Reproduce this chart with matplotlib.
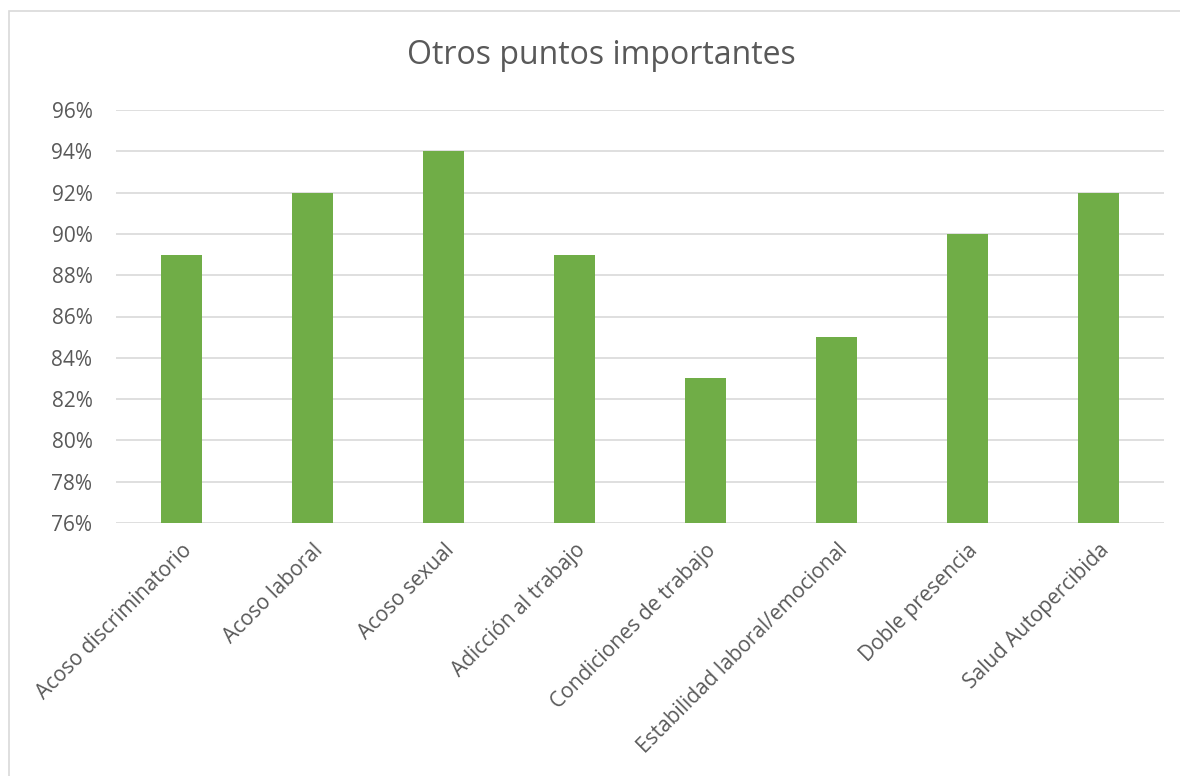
import matplotlib
matplotlib.use("Agg")
import matplotlib.pyplot as plt
from matplotlib.patches import Rectangle
from matplotlib.ticker import FuncFormatter, MultipleLocator

categories = ["Acoso discriminatorio", "Acoso laboral", "Acoso sexual", "Adicción al trabajo",
              "Condiciones de trabajo", "Estabilidad laboral/emocional", "Doble presencia",
              "Salud Autopercibida"]
values = [89, 92, 94, 89, 83, 85, 90, 92]
title = "Otros puntos importantes"

plt.rcParams['font.family'] = ['Open Sans', 'DejaVu Sans']
text_color = "#595959"

fig = plt.figure(figsize=(11.8, 7.76), dpi=100)
fig.patches.append(Rectangle((9/1180, -0.1), 1.2, 1 - 11/776 + 0.1, transform=fig.transFigure,
                             fill=False, edgecolor="#D9D9D9", linewidth=1.2))
ax = fig.add_axes([116/1180, 1 - 523/776, (1164 - 116)/1180, (523 - 110)/776])

x = range(len(categories))
ax.bar(x, values, width=0.31, color="#70AD47", zorder=3)
ax.set_ylim(76, 96)
ax.set_xlim(-0.5, len(categories) - 0.5)
ax.yaxis.set_major_locator(MultipleLocator(2))
ax.yaxis.set_major_formatter(FuncFormatter(lambda v, p: f"{v:.0f}%"))
ax.grid(axis='y', color="#D9D9D9", linewidth=1.2, zorder=0)
for s in ax.spines.values():
    s.set_visible(False)
ax.tick_params(axis='both', length=0, colors=text_color, labelsize=15)
ax.tick_params(axis='y', pad=17)
ax.set_xticks(list(x))
ax.set_xticklabels(categories, rotation=45, ha='right', rotation_mode='anchor')
ax.tick_params(axis='x', pad=12)
fig.text(601/1180, 1 - 56/776, title, ha='center', va='center', fontsize=23, color=text_color)

fig.savefig("out.png", dpi=100)
